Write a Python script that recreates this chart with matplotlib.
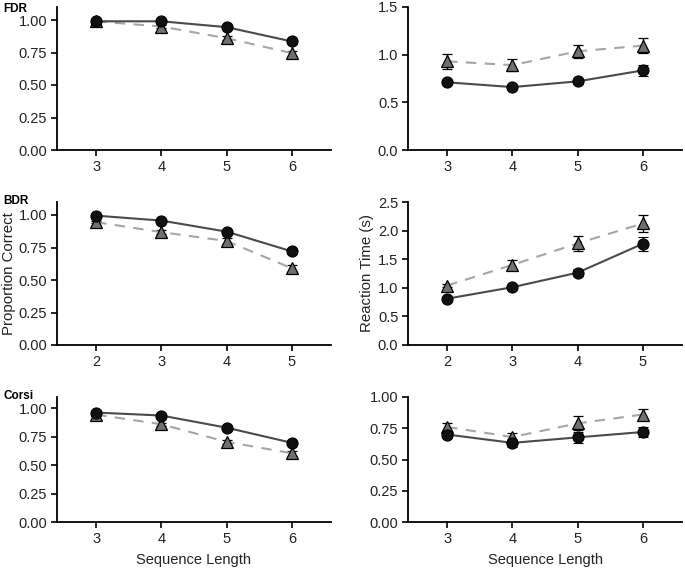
import matplotlib
matplotlib.use("Agg")
import matplotlib.pyplot as plt

plt.rcParams['font.family'] = ['Liberation Sans', 'DejaVu Sans']

# ---- data ----
len_fdr = [3, 4, 5, 6]
len_bdr = [2, 3, 4, 5]
len_corsi = [3, 4, 5, 6]

fdr_acc_circ = [0.99, 0.99, 0.945, 0.835]
fdr_acc_circ_err = [0.01, 0.01, 0.012, 0.02]
fdr_acc_tri = [0.99, 0.95, 0.86, 0.745]
fdr_acc_tri_err = [0.01, 0.012, 0.015, 0.02]

fdr_rt_circ = [0.71, 0.66, 0.72, 0.835]
fdr_rt_circ_err = [0.02, 0.02, 0.03, 0.06]
fdr_rt_tri = [0.93, 0.89, 1.035, 1.095]
fdr_rt_tri_err = [0.08, 0.06, 0.07, 0.075]

bdr_acc_circ = [0.995, 0.957, 0.872, 0.72]
bdr_acc_circ_err = [0.005, 0.01, 0.012, 0.02]
bdr_acc_tri = [0.945, 0.868, 0.80, 0.59]
bdr_acc_tri_err = [0.01, 0.015, 0.02, 0.025]

bdr_rt_circ = [0.81, 1.01, 1.265, 1.77]
bdr_rt_circ_err = [0.02, 0.04, 0.064, 0.12]
bdr_rt_tri = [1.04, 1.40, 1.777, 2.125]
bdr_rt_tri_err = [0.03, 0.094, 0.126, 0.145]

corsi_acc_circ = [0.963, 0.937, 0.83, 0.697]
corsi_acc_circ_err = [0.01, 0.01, 0.012, 0.015]
corsi_acc_tri = [0.945, 0.86, 0.705, 0.605]
corsi_acc_tri_err = [0.01, 0.015, 0.015, 0.02]

corsi_rt_circ = [0.70, 0.633, 0.677, 0.72]
corsi_rt_circ_err = [0.03, 0.033, 0.043, 0.04]
corsi_rt_tri = [0.76, 0.68, 0.789, 0.86]
corsi_rt_tri_err = [0.03, 0.03, 0.056, 0.047]

titles = ["FDR", "BDR", "Corsi"]

W, H = 685, 571
fig = plt.figure(figsize=(W / 100, H / 100), dpi=100)

def fr(x, top, w, h):
    return [x / W, (H - top - h) / H, w / W, h / H]

FS = 10.5

def panel(ax, x, circ, circ_err, tri, tri_err, ylim, yticks, yfmt):
    ax.errorbar(x, tri, yerr=tri_err, color='#a6a6a6', ls=(0, (5, 4)), lw=1.5,
                marker='^', ms=9, mfc='#707070', mec='black', mew=0.9,
                ecolor='black', elinewidth=1.0, capsize=3.5, capthick=1.0, zorder=2)
    ax.errorbar(x, circ, yerr=circ_err, color='#4a4a4a', ls='-', lw=1.5,
                marker='o', ms=8, mfc='#111111', mec='black', mew=0.8,
                ecolor='black', elinewidth=1.0, capsize=3.5, capthick=1.0, zorder=3)
    ax.set_xlim(min(x) - 0.6, max(x) + 0.6)
    ax.set_xticks(x)
    ax.set_ylim(*ylim)
    ax.set_yticks(yticks)
    ax.set_yticklabels([yfmt.format(v) for v in yticks])
    for s in ['top', 'right']:
        ax.spines[s].set_visible(False)
    for s in ['left', 'bottom']:
        ax.spines[s].set_linewidth(1.3)
        ax.spines[s].set_color('black')
    ax.tick_params(axis='both', length=4, width=1.2, labelsize=FS, colors='black',
                   labelcolor='#222222', pad=3)

acc_ticks = [0.0, 0.25, 0.5, 0.75, 1.0]

# top row
ax1 = fig.add_axes(fr(57, 7, 274, 143))
panel(ax1, len_fdr, fdr_acc_circ, fdr_acc_circ_err, fdr_acc_tri, fdr_acc_tri_err,
      (0, 1.1), acc_ticks, "{:.2f}")
ax2 = fig.add_axes(fr(408, 7, 274, 143))
panel(ax2, len_fdr, fdr_rt_circ, fdr_rt_circ_err, fdr_rt_tri, fdr_rt_tri_err,
      (0, 1.5), [0.0, 0.5, 1.0, 1.5], "{:.1f}")

# middle row
ax3 = fig.add_axes(fr(57, 202, 274, 143))
panel(ax3, len_bdr, bdr_acc_circ, bdr_acc_circ_err, bdr_acc_tri, bdr_acc_tri_err,
      (0, 1.1), acc_ticks, "{:.2f}")
ax4 = fig.add_axes(fr(408, 202, 274, 143))
panel(ax4, len_bdr, bdr_rt_circ, bdr_rt_circ_err, bdr_rt_tri, bdr_rt_tri_err,
      (0, 2.5), [0.0, 0.5, 1.0, 1.5, 2.0, 2.5], "{:.1f}")

# bottom row
ax5 = fig.add_axes(fr(57, 397, 274, 125))
panel(ax5, len_corsi, corsi_acc_circ, corsi_acc_circ_err, corsi_acc_tri, corsi_acc_tri_err,
      (0, 1.1), acc_ticks, "{:.2f}")
ax6 = fig.add_axes(fr(408, 397, 274, 125))
panel(ax6, len_corsi, corsi_rt_circ, corsi_rt_circ_err, corsi_rt_tri, corsi_rt_tri_err,
      (0, 1.0), acc_ticks, "{:.2f}")

# labels
ax3.set_ylabel("Proportion Correct", fontsize=10.8, color='#222222', labelpad=1.5)
ax4.set_ylabel("Reaction Time (s)", fontsize=10.8, color='#222222', labelpad=3)
ax5.set_xlabel("Sequence Length", fontsize=FS, color='#222222', labelpad=5)
ax6.set_xlabel("Sequence Length", fontsize=FS, color='#222222', labelpad=5)

# panel titles
for t, ytop in zip(titles, [9, 201, 396]):
    fig.text(3 / W, 1 - ytop / H, t, fontsize=8.5, fontweight='bold',
             ha='left', va='center', color='black')

fig.savefig("out.png", dpi=100)
